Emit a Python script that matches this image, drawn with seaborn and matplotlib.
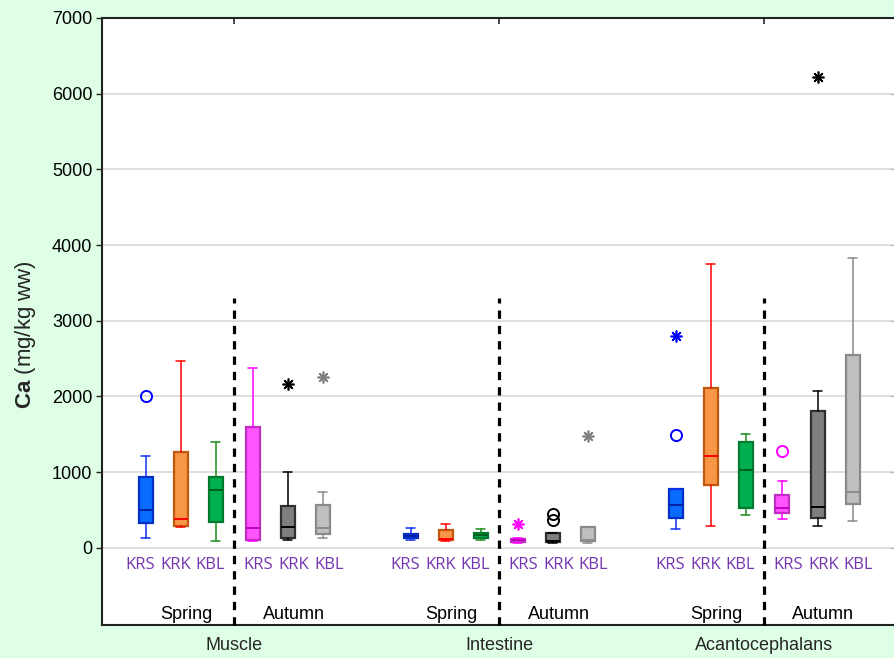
import numpy as np
import pandas as pd
import matplotlib
matplotlib.use("Agg")
import matplotlib.pyplot as plt
import seaborn as sns

# ---------------- data ----------------
groups = ["Muscle", "Intestine", "Acantocephalans"]
seasons = ["Spring", "Autumn"]
sites = ["KRS", "KRK", "KBL"]

# order: group -> season -> site (18 boxes)
whislo = [136, 269, 84, 92, 106, 128,
          106, 95, 106, 70, 70, 70,
          253, 288, 429, 374, 283, 354]
q1 = [326, 282, 343, 106, 128, 185,
      123, 106, 123, 75, 75, 84,
      394, 833, 530, 460, 394, 576]
med = [498, 379, 766, 264, 273, 268,
       150, 115, 163, 97, 92, 100,
       566, 1207, 1030, 525, 540, 737]
q3 = [929, 1272, 929, 1594, 546, 568,
      185, 238, 202, 119, 194, 273,
      773, 2116, 1404, 692, 1803, 2551]
whishi = [1219, 2466, 1404, 2373, 1000, 735,
          260, 317, 251, 132, 194, 273,
          773, 3753, 1510, 889, 2076, 3833]

outlier_box = [0, 4, 5, 9, 10, 10, 11, 12, 12, 15, 16]
outlier_val = [2010, 2166, 2254, 317, 449, 361, 1471, 2793, 1495, 1278, 6227]
outlier_kind = ["o", "*", "*", "*", "o", "o", "*", "*", "o", "o", "*"]

# ---------------- styles ----------------
BG = "#DEFFE6"
fills = ["#0A6CFF", "#F79646", "#00B050", "#FF55FF", "#7F7F7F", "#BFBFBF"]
edges = ["#0030C8", "#C0580E", "#007A30", "#C030C0", "#303030", "#8A8A8A"]
whisk = ["#1030F0", "#FF0000", "#1A8C1A", "#FF00FF", "#000000", "#8A8A8A"]
medc = ["#0020A0", "#FF0000", "#006020", "#C000C0", "#000000", "#8A8A8A"]
outc = ["#0000FF", "#FF0000", "#008000", "#FF00FF", "#000000", "#808080"]
label_color = "#7535B0"

sns.set_style("white")
plt.rcParams["font.family"] = ["Liberation Sans", "DejaVu Sans"]
plt.rcParams["mathtext.fontset"] = "custom"
plt.rcParams["mathtext.rm"] = "Liberation Sans"
plt.rcParams["mathtext.bf"] = "Liberation Sans:bold"

fig = plt.figure(figsize=(8.94, 6.58), dpi=100, facecolor=BG)
ax = fig.add_axes([102 / 894, 33 / 658, 794 / 894, 607 / 658])
ax.set_facecolor("white")

# positions
def group_start(g):
    return 1.25 + 7.56 * g

positions = []
for g in range(len(groups)):
    for s in range(len(seasons)):
        for k in range(len(sites)):
            positions.append(group_start(g) + 3.05 * s + k)
dash_pos = [group_start(g) + 2.52 for g in range(len(groups))]

# boxes
for i, p in enumerate(positions):
    c = i % 6
    st = [dict(med=med[i], q1=q1[i], q3=q3[i], whislo=whislo[i], whishi=whishi[i], fliers=[])]
    ax.bxp(st, positions=[p], widths=0.4, patch_artist=True, showfliers=False,
           capwidths=0.26, manage_ticks=False,
           boxprops=dict(facecolor=fills[c], edgecolor=edges[c], linewidth=1.6),
           whiskerprops=dict(color=whisk[c], linewidth=1.1),
           capprops=dict(color=whisk[c], linewidth=1.1),
           medianprops=dict(color=medc[c], linewidth=1.4), zorder=3)

# outliers
for b, v, kd in zip(outlier_box, outlier_val, outlier_kind):
    c = outc[b % 6]
    if kd == "o":
        ax.plot(positions[b], v, marker="o", ms=8, mfc="none", mec=c, mew=1.4,
                ls="none", zorder=4)
    else:
        ax.plot(positions[b], v, marker=(8, 2, 0), ms=8.5, mec=c, mew=1.2,
                ls="none", zorder=4)

# dashed separators
for d in dash_pos:
    ax.plot([d, d], [-1020, 3300], color="black", lw=2.3, ls=(0, (2.6, 2.2)),
            zorder=5, clip_on=False)

# site labels and season labels
for i, p in enumerate(positions):
    s = (i // 3) % 2
    off = -0.15 if s == 0 else 0.17
    ax.text(p + off, -225, sites[i % 3], color=label_color, fontsize=12,
            family=["Open Sans", "DejaVu Sans"], ha="center", va="center")
for g in range(len(groups)):
    for s in range(len(seasons)):
        mid = positions[g * 6 + s * 3 + 1]
        ax.text(mid + 0.17, -880, seasons[s], fontsize=13, ha="center",
                va="center", color="black")

ax.set_xlim(0, 22.66)
ax.set_ylim(-1020, 7000)
ax.set_yticks(np.arange(0, 7001, 1000))
ax.yaxis.grid(True, color="#D9D9D9", lw=1.2, zorder=0)
ax.xaxis.grid(False)
ax.set_axisbelow(True)
ax.tick_params(axis="y", direction="out", length=4, width=1, labelsize=13,
               pad=3, left=True, colors="#222222", labelcolor="black")
ax.set_xticks(dash_pos, labels=groups)
ax.tick_params(axis="x", length=0, labelsize=13, pad=9)

sec_y = ax.secondary_yaxis("right")
sec_y.set_yticks(np.arange(0, 7001, 1000))
sec_y.tick_params(direction="in", length=4, labelright=False)
sec_y.spines["right"].set_visible(False)
sec_x = ax.secondary_xaxis("top")
sec_x.set_xticks(dash_pos)
sec_x.tick_params(direction="in", length=4, width=1.2, labeltop=False)
sec_x.spines["top"].set_visible(False)

for sp in ["left", "top", "bottom"]:
    ax.spines[sp].set_visible(True)
    ax.spines[sp].set_color("#222222")
    ax.spines[sp].set_linewidth(1.5)
ax.spines["right"].set_visible(False)

fig.text(26 / 894, 1 - 335 / 658, r"$\mathbf{Ca}$ (mg/kg ww)", rotation=90,
         fontsize=16, ha="center", va="center")

fig.savefig("out.png", dpi=100, facecolor=BG)
